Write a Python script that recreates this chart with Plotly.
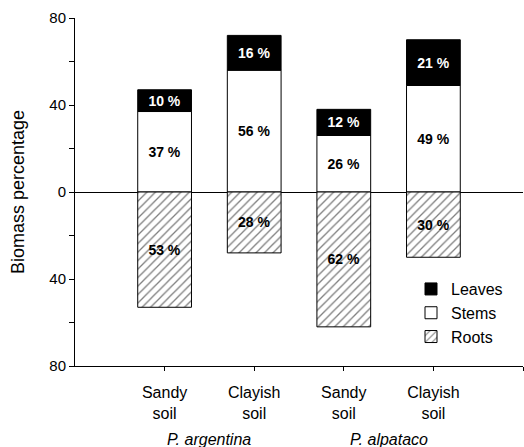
import plotly.graph_objects as go

categories = ["Sandy<br>soil", "Clayish<br>soil", "Sandy<br>soil", "Clayish<br>soil"]
species = ["P. argentina", "P. alpataco"]
stems = [37, 56, 26, 49]
leaves = [10, 16, 12, 21]
roots = [53, 28, 62, 30]
y_tick_vals = [-80, -60, -40, -20, 0, 20, 40, 60, 80]
y_tick_text = ["80", "", "40", "", "0", "", "40", "", "80"]

x = [0, 1, 2, 3]
FONT = "Liberation Sans, Arial, sans-serif"
line = dict(color="black", width=1)
LBL = 14

fig = go.Figure()
fig.add_trace(go.Bar(
    x=x, y=stems, name="Stems", legendrank=2, width=0.6,
    marker=dict(color="white", line=line),
    text=[f"{v} %" for v in stems], textposition="inside", insidetextanchor="middle",
    textfont=dict(family=FONT, size=LBL, color="black", weight="bold"),
))
fig.add_trace(go.Bar(
    x=x, y=leaves, name="Leaves", legendrank=1, width=0.6,
    marker=dict(color="black", line=line),
    text=[f"{v} %" for v in leaves], textposition="inside", insidetextanchor="middle",
    textfont=dict(family=FONT, size=LBL, color="white", weight="bold"),
))
fig.add_trace(go.Bar(
    x=x, y=[-v for v in roots], name="Roots", legendrank=3, width=0.6,
    marker=dict(color="white", line=line,
                pattern=dict(shape="/", fgcolor="black", bgcolor="white", size=6, solidity=0.22)),
    text=[f"{v} %" for v in roots], textposition="inside", insidetextanchor="middle",
    textfont=dict(family=FONT, size=LBL, color="black", weight="bold"),
))

fig.update_layout(
    width=524, height=447,
    barmode="relative",
    plot_bgcolor="white", paper_bgcolor="white",
    margin=dict(l=75, r=1, t=18, b=81, autoexpand=False),
    font=dict(family=FONT, size=15, color="black"),
    uniformtext=dict(minsize=LBL, mode="show"),
    showlegend=True,
    legend=dict(x=0.75, y=0.27, xanchor="left", yanchor="top",
                font=dict(size=16), bgcolor="rgba(0,0,0,0)", tracegroupgap=0),
    xaxis=dict(range=[-1, 4], tickvals=[0, 1, 2, 3, 4], ticktext=categories + [""],
               showline=True, linecolor="black", linewidth=1, ticks="outside", ticklen=4,
               tickcolor="black", showgrid=False, zeroline=False, automargin=False,
               ticklabelstandoff=8, tickfont=dict(size=16)),
    yaxis=dict(range=[-80, 80], tickvals=y_tick_vals, ticktext=y_tick_text,
               showline=True, linecolor="black", linewidth=1, ticks="outside", ticklen=5,
               tickcolor="black", showgrid=False, zeroline=True, zerolinecolor="black",
               zerolinewidth=1, tickfont=dict(size=15), automargin=False,
               title=dict(text="Biomass percentage", font=dict(size=18), standoff=20)),
)

for i, sp in enumerate(species):
    fig.add_annotation(x=2 * i + 0.5, y=-0.212, xref="x", yref="paper", yanchor="middle",
                       text=f"<i>{sp}</i>", showarrow=False, font=dict(size=16))

fig.write_html("out.html", config={"displayModeBar": False},
               post_script="document.body.style.margin='0';document.body.style.overflow='hidden';")
